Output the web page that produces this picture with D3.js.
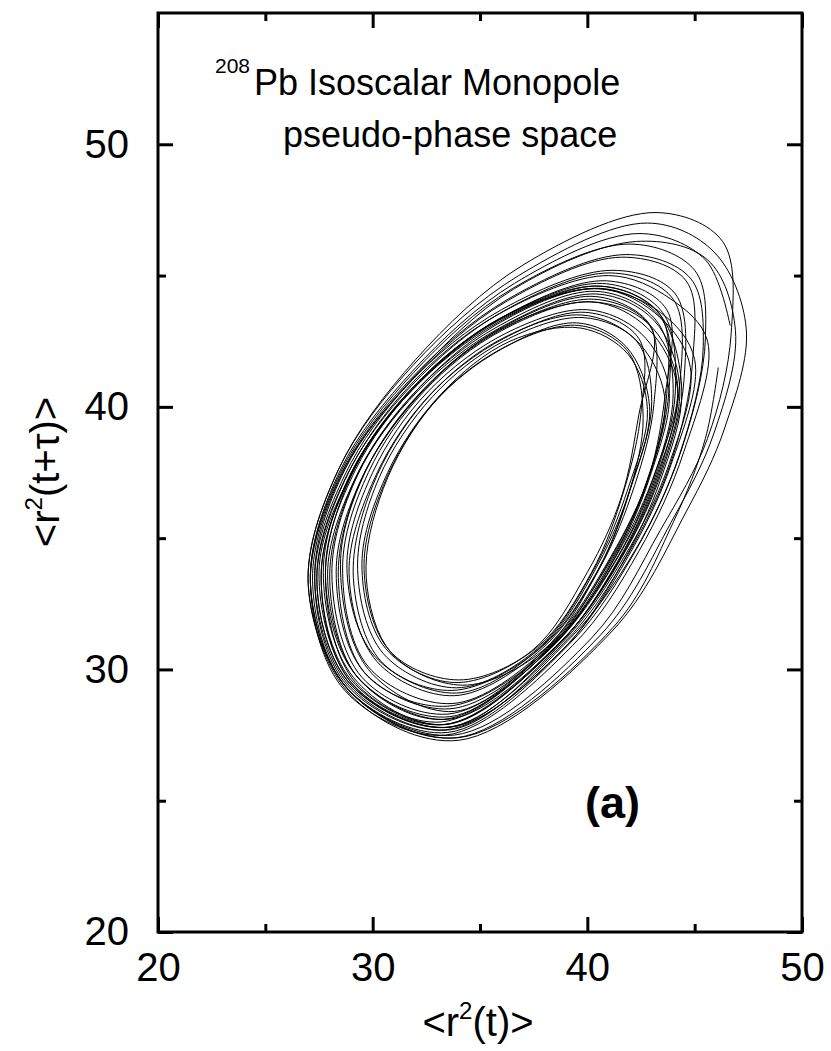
<!DOCTYPE html>
<html><head><meta charset="utf-8">
<script src="https://cdn.jsdelivr.net/npm/d3@7"></script>
<style>
body{margin:0;background:#fff}
svg text{font-family:"Liberation Sans",Arial,Helvetica,sans-serif;fill:#000}
</style>
</head><body>
<svg id="chart" width="831" height="1051"></svg>
<script>
// ---- axis ticks ----
const xDomain = [20, 50];
const yDomain = [20, 55];
const xMajor = [20, 30, 40, 50];
const xMinor = [25, 35, 45];
const yMajor = [20, 30, 40, 50];
const yMinor = [25, 35, 45];

// ---- trajectory <r2(t)>, <r2(t+tau)> (clockwise loops) ----
const phase1 = [
  [46.1,41.5],[45.5,38.8],[44.0,35.6],[41.2,31.6],[34.0,27.4],[28.9,29.2],[27.1,33.3],[28.5,37.5],[31.9,41.3],[36.5,44.5],[42.0,46.2],[45.0,45.2],
  [45.5,42.6],[44.4,38.4],[42.3,34.6],[39.2,31.0],[33.5,27.6],[28.8,29.3],[27.2,33.4],[28.6,37.5],[31.8,41.0],[36.2,44.0],[41.6,45.7],[44.6,44.8],
  [44.9,41.7],[43.9,37.9],[41.9,34.4],[38.9,31.0],[33.5,27.8],[28.9,29.5],[27.4,33.5],[28.8,37.4],[31.8,40.8],[36.0,43.6],[41.1,45.1],[44.0,44.1],
  [44.3,40.8],[43.3,37.4],[41.5,34.2],[38.6,30.9],[33.4,27.9],[29.0,29.6],[27.6,33.6],[29.0,37.4],[31.8,40.6],[35.8,43.2],[40.6,44.6],[43.4,43.5],
  [43.7,40.5],[42.8,37.2],[41.0,34.1],[38.2,30.8],[33.6,28.5],[29.6,29.9],[28.3,33.7],[29.5,37.3],[32.2,40.5],[35.9,42.9],[40.3,44.1],[42.9,43.1],
  [43.1,40.1],[42.2,37.0],[40.6,33.9],[37.9,30.8],[33.8,29.0],[30.2,30.3],[28.9,33.7],[30.1,37.3],[32.6,40.4],[36.1,42.6],[39.9,43.6],[42.4,42.6],
  [42.5,39.8],[41.7,36.8],[40.2,33.7],[37.6,30.8],[34.0,29.6],[30.8,30.7],[29.6,33.8],[30.6,37.2],[33.0,40.3],[36.2,42.3],[39.6,43.1],[41.9,42.1]
];
const phase2 = [
  [42.6,39.6],[41.9,36.6],[40.4,33.6],[37.9,30.7],[34.2,29.4],[30.9,30.6],[29.7,33.5],[30.5,36.9],[32.8,40.1],[36.0,42.2],[39.5,43.2],[41.8,42.3],
  [42.9,40.0],[42.0,36.9],[40.5,33.8],[37.8,30.8],[33.7,29.2],[30.4,30.3],[29.1,33.5],[30.0,37.0],[32.4,40.2],[35.8,42.5],[39.7,43.5],[42.2,42.6],
  [43.6,40.4],[42.7,37.0],[40.9,33.8],[38.1,30.7],[33.5,28.6],[29.7,29.8],[28.4,33.5],[29.4,37.1],[32.0,40.3],[35.6,42.8],[40.1,44.0],[42.8,43.2],
  [44.2,40.9],[43.2,37.6],[41.4,34.4],[38.5,31.0],[33.2,28.0],[29.2,29.5],[27.8,33.4],[28.9,37.2],[31.6,40.5],[35.6,43.2],[40.5,44.6],[43.3,43.6],
  [44.4,40.6],[43.4,37.2],[41.6,34.0],[38.8,30.7],[33.6,27.8],[29.1,29.4],[27.5,33.7],[29.1,37.6],[32.0,40.8],[36.0,43.4],[40.8,44.5],[43.5,43.3],
  [43.8,40.6],[42.9,37.4],[41.1,34.3],[38.3,31.0],[33.8,28.4],[29.8,30.0],[28.5,34.0],[29.7,37.6],[32.4,40.7],[36.2,43.1],[40.4,44.2],[43.0,43.0],
  [42.4,39.7],[41.6,36.6],[40.0,33.7],[37.4,30.7],[33.8,29.5],[30.6,30.8],[29.5,34.0],[30.7,37.5],[33.2,40.5],[36.4,42.5],[39.7,43.0],[41.9,42.0],
  [42.8,39.9],[41.9,36.9],[40.3,33.8],[37.7,30.8],[33.9,29.3],[30.5,30.6],[29.3,33.8],[30.3,37.3],[32.8,40.4],[36.1,42.5],[39.8,43.4],[42.3,42.5]
];
const phase3 = [
  [43.0,40.2],[42.1,37.1],[40.5,34.0],[37.9,30.9],[33.9,29.1],[30.1,30.5],[28.8,33.9],[30.0,37.5],[32.6,40.6],[36.2,42.8],[40.0,43.7],[42.5,42.8],
  [43.8,40.7],[42.9,37.3],[41.1,34.0],[38.3,30.8],[33.5,28.3],[29.5,29.7],[28.1,33.6],[29.3,37.4],[32.1,40.6],[35.9,43.0],[40.4,44.3],[43.1,43.3],
  [44.3,40.8],[43.4,37.5],[41.6,34.3],[38.7,31.0],[33.3,27.9],[29.0,29.5],[27.6,33.5],[28.9,37.3],[31.7,40.6],[35.8,43.3],[40.7,44.7],[43.5,43.6],
  [44.1,40.6],[43.1,37.2],[41.3,34.1],[38.4,30.9],[33.3,28.1],[29.3,29.7],[27.9,33.6],[29.2,37.3],[31.9,40.5],[35.7,43.0],[40.4,44.4],[43.2,43.3],
  [44.0,40.5],[43.0,37.1],[41.2,34.0],[38.4,31.0],[33.6,28.2],[29.4,29.6],[28.0,33.4],[29.1,37.1],[31.8,40.4],[35.7,43.1],[40.3,44.5],[43.4,43.6],
  [45.0,41.8],[43.9,37.8],[41.9,34.3],[38.9,30.8],[33.4,27.7],[28.8,29.4],[27.3,33.4],[28.7,37.4],[31.7,40.9],[36.0,43.7],[41.2,45.2],[44.1,44.3],
  [44.5,41.0],[43.5,37.6],[41.7,34.4],[38.8,31.1],[33.5,28.1],[29.2,29.8],[27.8,33.8],[29.2,37.6],[32.0,40.8],[36.0,43.4],[40.9,44.8],[43.7,43.7],
  [43.6,40.3],[42.7,36.9],[40.9,33.9],[38.1,30.8],[33.7,28.7],[29.8,30.1],[28.6,33.9],[29.8,37.5],[32.4,40.6],[36.0,42.9],[40.2,44.0],[42.8,43.0],
  [44.2,40.7],[43.2,37.3],[41.4,34.1],[38.5,30.8],[33.3,27.9],[29.1,29.7],[27.7,33.7],[29.0,37.5],[31.9,40.7],[35.9,43.3],[40.6,44.5],[43.4,43.4]
];
const phase4 = [
  [44.8,41.5],[43.8,37.8],[41.8,34.4],[38.8,31.0],[33.6,27.8],[29.0,29.4],[27.4,33.3],[28.7,37.2],[31.6,40.7],[35.8,43.5],[41.0,45.0],[43.9,44.1],
  [45.6,42.5],[44.5,38.3],[42.4,34.5],[39.3,30.9],[33.4,27.5],[28.7,29.2],[27.1,33.3],[28.5,37.4],[31.7,41.0],[36.3,44.1],[41.8,45.8],[44.8,44.9],
  [45.4,42.3],[44.3,38.2],[42.2,34.5],[39.1,31.1],[33.6,27.7],[28.9,29.4],[27.3,33.5],[28.7,37.6],[32.0,41.2],[36.6,44.5],[42.3,46.3],[45.6,45.6],
  [46.9,42.9],[45.9,39.0],[43.9,35.6],[40.6,31.3],[33.9,27.4],[29.0,29.1],[27.0,33.2],[28.4,37.6],[31.9,41.6],[36.8,45.0],[42.8,47.0],[45.9,45.9],
  [47.4,43.0],[46.4,39.2],[44.6,36.0],[41.2,31.5],[34.0,27.3],[29.0,29.0],[27.0,33.2],[28.4,37.6],[32.0,41.8],[37.0,45.4],[43.2,47.4],[46.3,46.3],
  [46.7,42.8],[45.6,38.8],[43.4,35.3],[40.2,31.2],[33.8,27.5],[28.9,29.2],[27.1,33.3],[28.5,37.6],[31.9,41.4],[36.6,44.7],[42.4,46.6],[45.5,45.6],
  [46.65,43.1]
];

const svg = d3.select("#chart");
const x = d3.scaleLinear().domain(xDomain).range([158, 802]);
const y = d3.scaleLinear().domain(yDomain).range([932, 13]);

// trajectory
const traj = phase1.concat(phase2, phase3, phase4);
const line = d3.line().x(d => x(d[0])).y(d => y(d[1])).curve(d3.curveCatmullRom.alpha(0.5));
svg.append("path").attr("d", line(traj))
  .attr("fill", "none").attr("stroke", "#000").attr("stroke-width", 1);

// axes
function styleAxis(g) {
  g.select(".domain").remove();
  g.selectAll(".tick line").attr("stroke", "#000").attr("stroke-width", 3);
  g.selectAll(".tick text").attr("font-size", 40).attr("font-family", '"Liberation Sans",Arial,sans-serif').attr("fill", "#000");
}
const fmt = d3.format("d");
svg.append("g").attr("transform", "translate(0,932)")
  .call(d3.axisBottom(x).tickValues(xMajor).tickSize(-15).tickPadding(21).tickFormat(fmt)).call(styleAxis);
svg.append("g").attr("transform", "translate(0,932)")
  .call(d3.axisBottom(x).tickValues(xMinor).tickSize(-8).tickFormat("")).call(styleAxis);
svg.append("g").attr("transform", "translate(0,13)")
  .call(d3.axisTop(x).tickValues(xMajor).tickSize(-15).tickFormat("")).call(styleAxis);
svg.append("g").attr("transform", "translate(0,13)")
  .call(d3.axisTop(x).tickValues(xMinor).tickSize(-8).tickFormat("")).call(styleAxis);
svg.append("g").attr("transform", "translate(158,0)")
  .call(d3.axisLeft(y).tickValues(yMajor).tickSize(-15).tickPadding(29).tickFormat(fmt)).call(styleAxis);
svg.append("g").attr("transform", "translate(158,0)")
  .call(d3.axisLeft(y).tickValues(yMinor).tickSize(-8).tickFormat("")).call(styleAxis);
svg.append("g").attr("transform", "translate(802,0)")
  .call(d3.axisRight(y).tickValues(yMajor).tickSize(-15).tickFormat("")).call(styleAxis);
svg.append("g").attr("transform", "translate(802,0)")
  .call(d3.axisRight(y).tickValues(yMinor).tickSize(-8).tickFormat("")).call(styleAxis);

// frame
svg.append("rect").attr("x", x(20)).attr("y", y(55))
  .attr("width", x(50) - x(20)).attr("height", y(20) - y(55))
  .attr("fill", "none").attr("stroke", "#000").attr("stroke-width", 3);

// axis titles
const xt = svg.append("text").attr("x", 478).attr("y", 1036).attr("text-anchor", "middle").attr("font-size", 40);
xt.append("tspan").text("<r");
xt.append("tspan").attr("font-size", 24).attr("dy", -17).text("2");
xt.append("tspan").attr("dy", 17).text("(t)>");

const yt = svg.append("text").attr("transform", "translate(59,472) rotate(-90)").attr("text-anchor", "middle").attr("font-size", 40);
yt.append("tspan").text("<r");
yt.append("tspan").attr("font-size", 24).attr("dy", -17).text("2");
yt.append("tspan").attr("dy", 17).text("(t+τ)>");

// annotation
svg.append("text").attr("x", 215).attr("y", 73).attr("font-size", 21).text("208");
svg.append("text").attr("x", 254).attr("y", 95).attr("font-size", 36).text("Pb Isoscalar Monopole");
svg.append("text").attr("x", 283).attr("y", 147).attr("font-size", 36).text("pseudo-phase space");
svg.append("text").attr("x", 585).attr("y", 818).attr("font-size", 45).attr("font-weight", "bold").text("(a)");
</script>
</body></html>
